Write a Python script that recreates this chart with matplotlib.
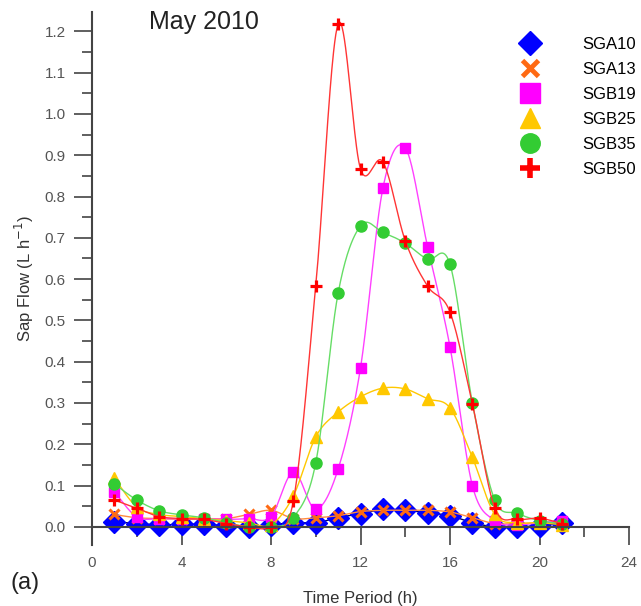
import numpy as np
import matplotlib.pyplot as plt
from matplotlib.lines import Line2D
from matplotlib.ticker import MultipleLocator

plt.rcParams['font.family'] = ['Liberation Sans', 'DejaVu Sans']

hours = np.arange(1, 22)
names = ['SGA10', 'SGA13', 'SGB19', 'SGB25', 'SGB35', 'SGB50']
sga10 = [0.012, 0.008, 0.005, 0.006, 0.006, 0.003, 0.0, 0.005, 0.010, 0.010, 0.022,
         0.032, 0.042, 0.040, 0.034, 0.027, 0.010, 0.0, 0.0, 0.003, 0.010]
sga13 = [0.030, 0.022, 0.020, 0.018, 0.020, 0.020, 0.030, 0.040, 0.020, 0.022, 0.027,
         0.037, 0.040, 0.040, 0.040, 0.036, 0.022, 0.008, 0.008, 0.010, 0.010]
sgb19 = [0.085, 0.024, 0.020, 0.020, 0.020, 0.018, 0.020, 0.025, 0.133, 0.043, 0.140,
         0.385, 0.820, 0.918, 0.678, 0.436, 0.100, 0.015, 0.005, 0.010, 0.015]
sgb25 = [0.118, 0.048, 0.030, 0.025, 0.020, 0.015, 0.010, 0.005, 0.075, 0.218, 0.278,
         0.315, 0.336, 0.334, 0.310, 0.288, 0.168, 0.030, 0.010, 0.010, 0.005]
sgb35 = [0.104, 0.065, 0.039, 0.029, 0.022, 0.010, 0.0, 0.0, 0.022, 0.155, 0.566,
         0.729, 0.713, 0.687, 0.648, 0.636, 0.300, 0.065, 0.033, 0.015, 0.008]
sgb50 = [0.065, 0.045, 0.025, 0.020, 0.018, 0.008, 0.0, 0.0, 0.063, 0.583, 1.218,
         0.867, 0.884, 0.693, 0.583, 0.520, 0.298, 0.046, 0.019, 0.021, 0.008]
series = [sga10, sga13, sgb19, sgb25, sgb35, sgb50]

# marker, marker colour, line colour, marker size, edge width
styles = [('D', '#0000ff', '#000060', 11, 1),
          ('x', '#ff6a13', '#ff8a40', 6.5, 2.2),
          ('s', '#ff00ff', '#ff40ff', 7.5, 1),
          ('^', '#ffc800', '#ffc800', 8, 1),
          ('o', '#33cc33', '#66dd66', 8, 1),
          ('+', '#ff0000', '#ff3535', 9, 2.3)]

XMAX, YMIN, YMAX = 24, -0.044, 1.247
AX_W, AX_H = 537, 533  # axes size in pixels


def smooth(x, y, n=40):
    # parametric bezier through the points in screen space (spreadsheet-style smoothed line)
    px = np.asarray(x, float) * AX_W / XMAX
    py = np.asarray(y, float) * AX_H / (YMAX - YMIN)
    P = np.column_stack([px, py])
    Q = np.vstack([P[:1], P, P[-1:]])
    out = []
    t = np.linspace(0, 1, n)[:, None]
    for i in range(len(P) - 1):
        p0, p3 = Q[i + 1], Q[i + 2]
        p1 = p0 + (Q[i + 2] - Q[i]) / 6
        p2 = p3 - (Q[i + 3] - Q[i + 1]) / 6
        seg = ((1 - t)**3) * p0 + 3 * ((1 - t)**2) * t * p1 + 3 * (1 - t) * t**2 * p2 + t**3 * p3
        out.append(seg)
    c = np.vstack(out)
    return c[:, 0] * XMAX / AX_W, c[:, 1] * (YMAX - YMIN) / AX_H


fig = plt.figure(figsize=(6.41, 6.06), dpi=100)
ax = fig.add_axes([92 / 641, 61 / 606, AX_W / 641, AX_H / 606])

for vals, (mk, mc, lc, ms, mew) in zip(series, styles):
    sx, sy = smooth(hours, vals)
    ax.plot(sx, sy, color=lc, lw=1.0)
    ax.plot(hours, vals, ls='none', marker=mk, ms=ms, mew=mew, color=mc, mec=mc)

ax.set_xlim(0, XMAX)
ax.set_ylim(YMIN, YMAX)
ax.spines['top'].set_visible(False)
ax.spines['right'].set_visible(False)
ax.spines['bottom'].set_position(('data', 0))
for s in ['left', 'bottom']:
    ax.spines[s].set_color('#444444')
    ax.spines[s].set_linewidth(1.5)

ax.xaxis.set_major_locator(MultipleLocator(4))
ax.xaxis.set_minor_locator(MultipleLocator(2))
ax.yaxis.set_major_locator(MultipleLocator(0.1))
ax.yaxis.set_minor_locator(MultipleLocator(0.05))
ax.yaxis.set_major_formatter(lambda v, p: f'{v:.1f}')
ax.tick_params(which='both', direction='out', color='#444444', width=1.2, labelsize=11,
               labelcolor='#555555')
ax.tick_params(which='major', length=13)
ax.tick_params(which='minor', length=7)
ax.tick_params(axis='y', pad=6)
ax.tick_params(axis='x', pad=8)

ax.set_ylabel('Sap Flow (L h$^{-1}$)', fontsize=12, color='#333333', labelpad=6)
fig.text(360 / 641, 1 - 598 / 606, 'Time Period (h)', fontsize=12, color='#333333',
         ha='center', va='center')
fig.text(204 / 641, 1 - 22 / 606, 'May 2010', fontsize=18, color='#222222',
         ha='center', va='center')
fig.text(10 / 641, 1 - 583 / 606, '(a)', fontsize=17, color='#222222',
         ha='left', va='center')

handles = []
for mk, mc, lc, ms, mew in styles:
    if mk == 'x':
        h = Line2D([], [], ls='none', marker='x', ms=11, mew=3.5, color=mc)
    elif mk == '+':
        h = Line2D([], [], ls='none', marker='+', ms=15, mew=4, color=mc)
    elif mk == 'D':
        h = Line2D([], [], ls='none', marker='D', ms=12, color=mc)
    else:
        h = Line2D([], [], ls='none', marker=mk, ms=14, color=mc)
    handles.append(h)
fig.legend(handles, names, loc='upper left', bbox_to_anchor=(511 / 641, 1 - 30 / 606),
           frameon=False, fontsize=12, handletextpad=2.35, labelspacing=0.6,
           borderaxespad=0, handlelength=1.5)

fig.savefig('out.png', dpi=100)
